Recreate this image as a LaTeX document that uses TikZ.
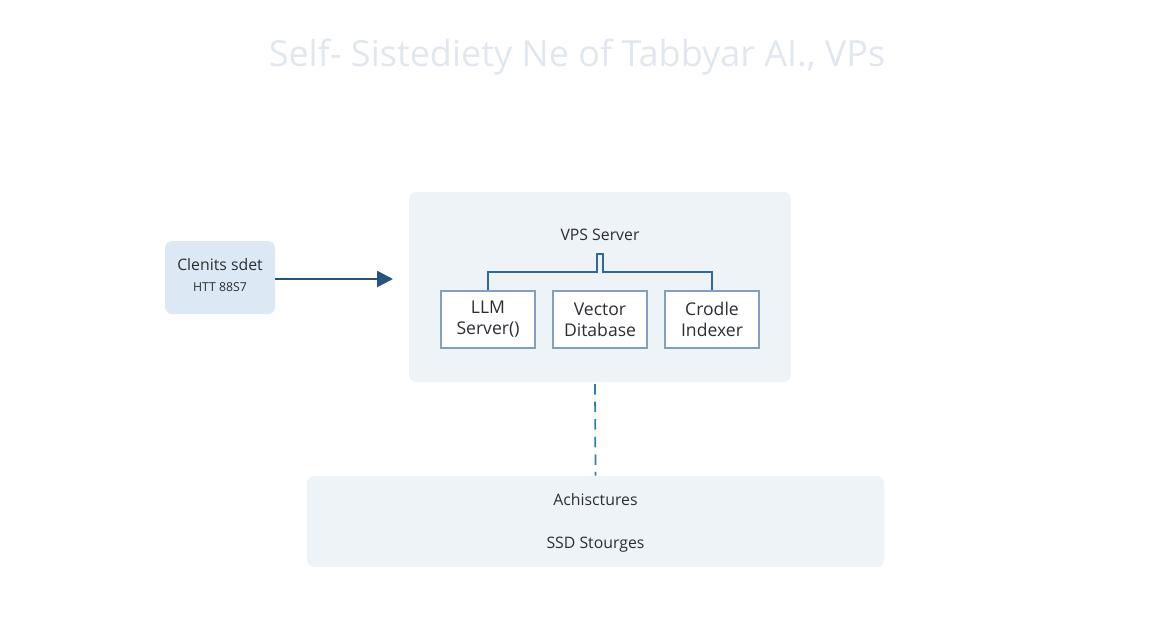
\documentclass[tikz,border=0pt]{standalone}
\usepackage{fontspec}
\setsansfont{Open Sans}
\usepackage{tikz}
\usetikzlibrary{arrows.meta, positioning, calc}
\definecolor{titlegray}{HTML}{E1E7EE}
\definecolor{panelblue}{HTML}{EEF3F8}
\definecolor{clientblue}{HTML}{DCE8F4}
\definecolor{edgeblue}{HTML}{7FA0C0}
\definecolor{arrowblue}{HTML}{24547F}
\definecolor{linkblue}{HTML}{2F6A96}
\definecolor{dashblue}{HTML}{2C7FAE}
\definecolor{textgray}{HTML}{2B2F33}

\begin{document}
\begin{tikzpicture}[
    x=0.02cm, y=-0.02cm,
    font=\sffamily\small,
    panel/.style={fill=panelblue, rounded corners=4pt, inner sep=0pt},
    clientbox/.style={fill=clientblue, rounded corners=4pt, inner sep=0pt},
    compbox/.style={draw=edgeblue, fill=white, line width=0.6pt, minimum width=94*0.02cm,
                    minimum height=57*0.02cm, align=center, inner sep=2pt, text=textgray,
                    font=\sffamily\fontsize{10}{12}\selectfont},
    label/.style={text=textgray, inner sep=1pt}
]

\useasboundingbox (0,0) rectangle (1152,640);

% title
\node[text=titlegray, font=\sffamily\fontsize{20.5}{24}\selectfont] (title) at (577,57)
    {Self- Sistediety Ne of Tabbyar AI., VPs};

% client
\node[clientbox, minimum width=110*0.02cm, minimum height=73*0.02cm] (client) at (220,277.5) {};
\node[label, font=\sffamily\fontsize{9}{11}\selectfont] (clientname) at (220,265) {Clenits sdet};
\node[label, font=\sffamily\scriptsize] (clientproto) at (220,287) {HTT 88S7};

% vps server
\node[panel, minimum width=382*0.02cm, minimum height=190*0.02cm] (vps) at (600,287) {};
\node[label] (vpsname) at (600,235) {VPS Server};
\coordinate (vpsin) at (393,279);

\node[compbox] (llm) at (488,319.5) {LLM\\Server()};
\node[compbox] (vector) at (600,319.5) {Vector\\Ditabase};
\node[compbox] (indexer) at (712,319.5) {Crodle\\Indexer};

% storage
\node[panel, minimum width=577*0.02cm, minimum height=91*0.02cm] (storage) at (595.5,521.5) {};
\node[label] (storagetop) at (595.5,500) {Achisctures};
\node[label] (storagebottom) at (595.5,545) {SSD Stourges};

% connectors
\draw[arrowblue, line width=1.4pt, -{Triangle[length=9pt, width=9pt]}] (client.east |- vpsin) -- (vpsin);

\coordinate (notchl) at (597,272);
\coordinate (notchr) at (603,272);
\draw[linkblue, line width=0.9pt] (llm.north) |- (notchl) -- ++(0,-18) -| (notchr) -| (indexer.north);

\draw[dashblue, line width=1pt, dash pattern=on 6pt off 4pt] (595,384) -- (storage.north);

\end{tikzpicture}
\end{document}
